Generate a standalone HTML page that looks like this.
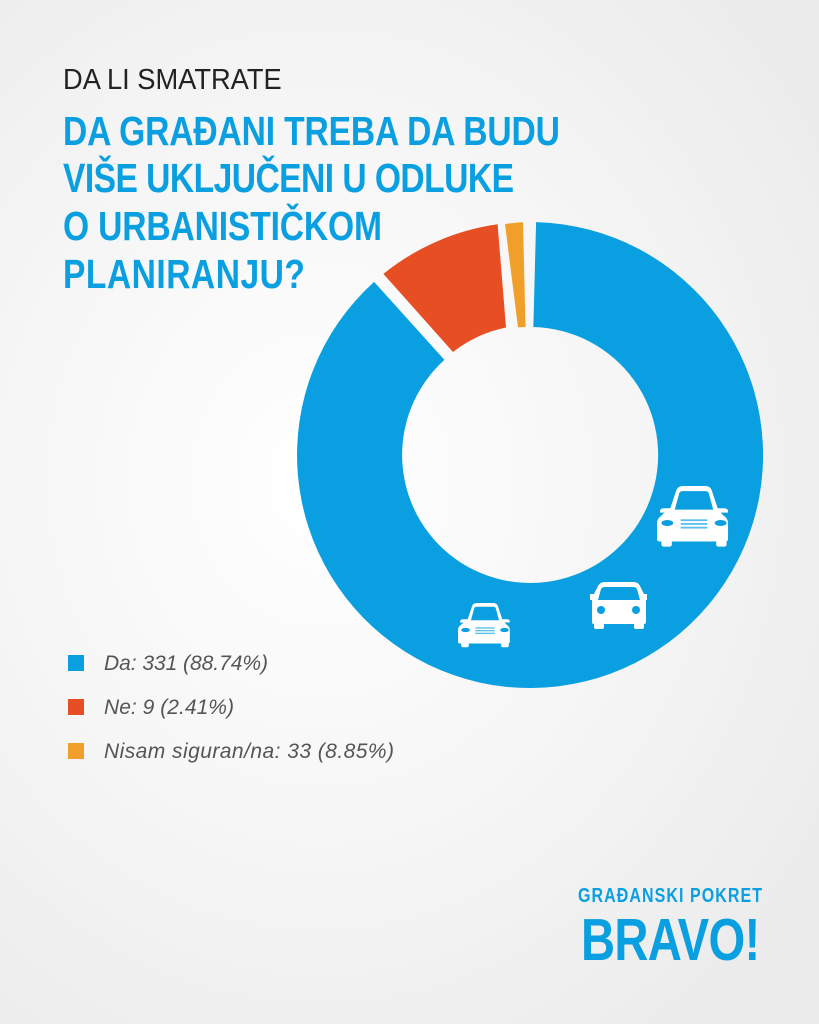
<!DOCTYPE html>
<html><head><meta charset="utf-8"><style>
html,body{margin:0;padding:0;width:819px;height:1024px;overflow:hidden}
body{background:radial-gradient(ellipse 620px 700px at 320px 480px,#ffffff 0%,#f7f7f7 45%,#ebebeb 100%)}
svg{display:block}
</style></head><body>
<svg width="819" height="1024" viewBox="0 0 819 1024" xmlns="http://www.w3.org/2000/svg">
<defs>
<g id="car">
  <path d="M18 30 L26 6 Q28 0 35 0 L65 0 Q72 0 74 6 L82 30 L90 30 Q96 30 96 34 L96 36 L86 36 L90 40 Q96 44 96 50 L96 72 Q96 75 92 75 L4 75 Q0 75 0 72 L0 50 Q0 44 6 40 L10 36 L4 36 L4 34 Q4 30 10 30 Z" fill="#fff"/>
  <path d="M24 32 L30 10 Q31 7 35 7 L65 7 Q69 7 70 10 L76 32 Z" fill="#0a9fe0"/>
  <ellipse cx="14" cy="50" rx="8" ry="4" fill="#0a9fe0"/>
  <ellipse cx="86" cy="50" rx="8" ry="4" fill="#0a9fe0"/>
  <rect x="32" y="45" width="36" height="2.5" fill="#5cc0ec"/>
  <rect x="32" y="50" width="36" height="2.5" fill="#5cc0ec"/>
  <rect x="32" y="55" width="36" height="2.5" fill="#5cc0ec"/>
  <rect x="6" y="70" width="14" height="12" rx="3" fill="#fff"/>
  <rect x="80" y="70" width="14" height="12" rx="3" fill="#fff"/>
</g>
</defs>
<text transform="translate(63,89) scale(0.9,1)" x="0" y="0" font-family="'Liberation Sans',sans-serif" font-size="29" fill="#222" textLength="243" lengthAdjust="spacingAndGlyphs">DA LI SMATRATE</text>
<g font-family="'Liberation Sans',sans-serif" font-weight="bold" font-size="41" fill="#0a9fe0" lengthAdjust="spacingAndGlyphs">
<text transform="translate(63,145) scale(0.82,1)" textLength="606">DA GRAĐANI TREBA DA BUDU</text>
<text transform="translate(63,192) scale(0.82,1)" textLength="550">VIŠE UKLJUČENI U ODLUKE</text>
<text transform="translate(63,240) scale(0.82,1)" textLength="389">O URBANISTIČKOM</text>
<text transform="translate(63,288) scale(0.82,1)" textLength="295">PLANIRANJU?</text>
</g>
<path d="M536.1 222.1 A233 233 0 1 1 374.1 281.9 L444.4 359.9 A128 128 0 1 0 533.35 327 Z" fill="#0a9fe0"/>
<path d="M383.4 273.9 A233 233 0 0 1 497.6 224.3 L506 327.5 A128 128 0 0 0 453 352 Z" fill="#e84e23"/>
<path d="M505 224 A233 233 0 0 1 523 222.1 L525.5 327 A128 128 0 0 0 518 327.4 Z" fill="#f0a02a"/>
<use href="#car" transform="translate(657,486) scale(0.74)"/>
<use href="#car" transform="translate(458,603) scale(0.54)"/>
<g transform="translate(590,582)">
  <path d="M4 12 L8 4 Q10 0 15 0 L43 0 Q48 0 50 4 L54 12 L57 12 L57 18 L56 18 L56 40 Q56 42 54 42 L4 42 Q2 42 2 40 L2 18 L0 18 L0 12 Z" fill="#fff"/>
  <path d="M8 18 L11 7 Q12 5 15 5 L43 5 Q46 5 47 7 L50 18 Z" fill="#0a9fe0"/>
  <circle cx="11" cy="28" r="4" fill="#0a9fe0"/>
  <circle cx="46" cy="28" r="4" fill="#0a9fe0"/>
  <rect x="4" y="38" width="10" height="9" rx="2" fill="#fff"/>
  <rect x="44" y="38" width="10" height="9" rx="2" fill="#fff"/>
</g>
<rect x="68" y="655" width="16" height="16" fill="#0a9fe0"/>
<rect x="68" y="699" width="16" height="16" fill="#e84e23"/>
<rect x="68" y="743" width="16" height="16" fill="#f0a02a"/>
<g font-family="'Liberation Sans',sans-serif" font-style="italic" font-size="21" fill="#555" lengthAdjust="spacingAndGlyphs">
<text x="104" y="670" textLength="164">Da: 331 (88.74%)</text>
<text x="104" y="714" textLength="130">Ne: 9 (2.41%)</text>
<text x="104" y="758" textLength="290">Nisam siguran/na: 33 (8.85%)</text>
</g>
<g font-family="'Liberation Sans',sans-serif" font-weight="bold" fill="#0a9fe0" lengthAdjust="spacingAndGlyphs">
<text transform="translate(578,902) scale(0.8,1)" font-size="20" textLength="230">GRAĐANSKI POKRET</text>
<text transform="translate(581,960) scale(0.8,1)" font-size="59" textLength="224">BRAVO!</text>
</g>
</svg>
</body></html>
